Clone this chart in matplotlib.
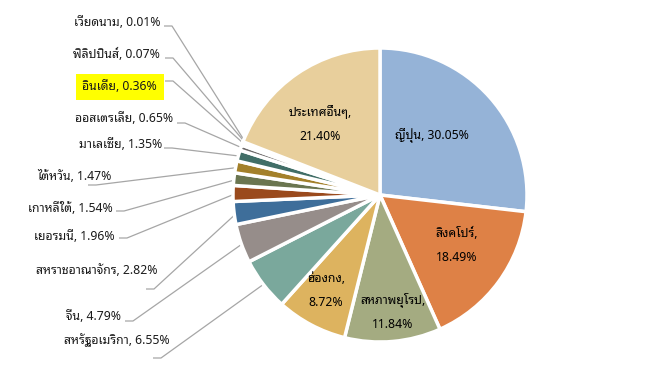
import numpy as np
import matplotlib
matplotlib.use('Agg')
import matplotlib.pyplot as plt

plt.rcParams['font.family'] = ['Noto Sans Thai Looped', 'DejaVu Sans']

countries = ['ญี่ปุ่น', 'สิงคโปร์', 'สหภาพยุโรป', 'ฮ่องกง', 'สหรัฐอเมริกา', 'จีน',
             'สหราชอาณาจักร', 'เยอรมนี', 'เกาหลีใต้', 'ไต้หวัน', 'มาเลเซีย',
             'ออสเตรเลีย', 'อินเดีย', 'ฟิลิปปินส์', 'เวียดนาม', 'ประเทศอื่นๆ']
shares = [30.05, 18.49, 11.84, 8.72, 6.55, 4.79, 2.82, 1.96, 1.54, 1.47, 1.35,
          0.65, 0.36, 0.07, 0.01, 21.40]
colors = ['#95B3D7', '#DE8146', '#A4AB81', '#DDB35F', '#7AA89C', '#968D8A',
          '#3E6E9A', '#9A4A1D', '#6A7550', '#A3802A', '#416E67',
          '#6E6A6A', '#5A5A5A', '#8C8C8C', '#B0B0B0', '#E8CF9C']

# inside labels: index -> (x, y) in pixels (y from top), two lines or one
inside = {0: (432, 136, False), 1: (457, 245, True), 2: (393, 312, True),
          3: (326, 291, True), 15: (320, 124, True)}
# outside labels: index -> (text right x, text y, leader start x, leader y)
outside = {14: (160, 23, 164, 26), 13: (160, 54, 165, 58), 12: (157, 87, 165, 81),
           11: (173, 118, 177, 123), 10: (162, 145, 164, 148), 9: (112, 176, 88, 185),
           8: (113, 208, 116, 211), 7: (115, 237, 119, 238), 6: (157, 271, 146, 289),
           5: (121, 317, 125, 321), 4: (170, 340, 153, 358)}

W, H = 657, 375
fig = plt.figure(figsize=(W / 100, H / 100), dpi=100)
ax = fig.add_axes([0, 0, 1, 1])
ax.axis('off')

cx, cy, r = 380, H - 195, 147
wedges, _ = ax.pie(shares, colors=colors, startangle=90, counterclock=False,
                   center=(cx, cy), radius=r, normalize=True,
                   wedgeprops=dict(edgecolor='white', linewidth=2.5))
ax.set_aspect('equal')
ax.set_xlim(0, W)
ax.set_ylim(0, H)

fs = 8.8
for i, (x, y, two) in inside.items():
    txt = f'{countries[i]},\n{shares[i]:.2f}%' if two else f'{countries[i]}, {shares[i]:.2f}%'
    ax.text(x, H - y, txt, ha='center', va='center', fontsize=fs,
            linespacing=2.1, color='black')

for i, (tx, ty, lx, ly) in outside.items():
    txt = f'{countries[i]}, {shares[i]:.2f}%'
    kw = {}
    if i == 12:
        kw['bbox'] = dict(boxstyle='square,pad=0.55', fc='#FFFF00', ec='none')
        kw['fontweight'] = 'bold'
    ax.text(tx, H - ty, txt, ha='right', va='center', fontsize=fs, color='#1A1A1A', **kw)
    w = wedges[i]
    mid = np.deg2rad((w.theta1 + w.theta2) / 2)
    px = cx + 0.98 * r * np.cos(mid)
    py = cy + 0.98 * r * np.sin(mid)
    ax.plot([lx, lx + 8, px], [H - ly, H - ly, py], color='#A6A6A6', lw=0.9,
            zorder=0.5, solid_capstyle='butt')

fig.savefig('out.png', dpi=100)
